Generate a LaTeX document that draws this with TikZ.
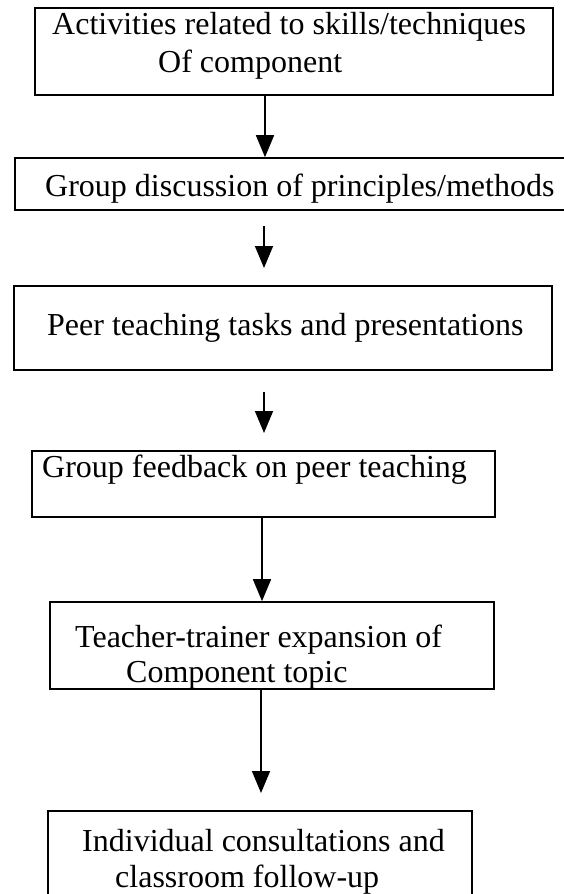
\documentclass[tikz,border=0pt]{standalone}
\usepackage{fontspec}
\setmainfont{Liberation Serif}
\usetikzlibrary{arrows.meta}
\begin{document}
\begin{tikzpicture}[x=1pt,y=-1pt,
  boxnode/.style={draw=black,line width=1.6pt,rectangle,inner sep=0pt},
  txt/.style={inner sep=0pt,anchor=base west,font=\fontsize{32}{37}\selectfont},
  arr/.style={line width=1.6pt,-{Triangle[width=18pt,length=22pt]}}]
\useasboundingbox (0,0) rectangle (563,894);
% boxes
\node[boxnode,minimum width=518pt,minimum height=87pt] (b1) at (294,51.5) {};
\node[boxnode,minimum width=551pt,minimum height=52pt] (b2) at (290.5,184) {};
\node[boxnode,minimum width=538pt,minimum height=84pt] (b3) at (283,328) {};
\node[boxnode,minimum width=463pt,minimum height=66pt] (b4) at (263.5,484) {};
\node[boxnode,minimum width=444pt,minimum height=87pt] (b5) at (272,645.5) {};
\node[boxnode,minimum width=424pt,minimum height=94pt] (b6) at (260,858) {};
% texts
\node[txt] (t1a) at (52,34) {Activities related to skills/techniques};
\node[txt] (t1b) at (158,72) {Of component};
\node[txt] (t2) at (45,196) {Group discussion of principles/methods};
\node[txt] (t3) at (47,335) {Peer teaching tasks and presentations};
\node[txt] (t4) at (42,477) {Group feedback on peer teaching};
\node[txt] (t5a) at (75,647) {Teacher-trainer expansion of};
\node[txt] (t5b) at (126,682) {Component topic};
\node[txt] (t6a) at (82,851) {Individual consultations and};
\node[txt] (t6b) at (115,887) {classroom follow-up};
% arrows
\coordinate (a1) at (265,0);
\draw[arr] (b1.south -| a1) -- (b2.north -| a1);
\coordinate (a2s) at (264,226);
\coordinate (a2e) at (264,268);
\draw[arr] (a2s) -- (a2e);
\coordinate (a3s) at (264,392);
\coordinate (a3e) at (264,433);
\draw[arr] (a3s) -- (a3e);
\coordinate (a4) at (262,0);
\draw[arr] (b4.south -| a4) -- (b5.north -| a4);
\coordinate (a5s) at (261,689);
\coordinate (a5e) at (261,793);
\draw[arr] (b5.south -| a5s) -- (a5e);
\end{tikzpicture}
\end{document}
